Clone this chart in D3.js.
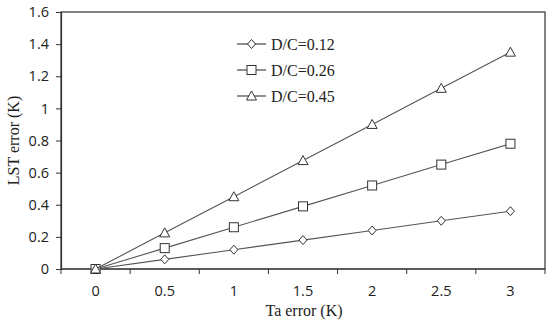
<!DOCTYPE html>
<html>
<head>
<meta charset="utf-8">
<script src="https://cdn.jsdelivr.net/npm/d3@7"></script>
<style>
  body { margin: 0; background: #fff; }
  .tick text { font-family: "Open Sans", "Noto Sans", sans-serif; font-size: 14.5px; fill: #222; }
  .axis path, .axis line { stroke: #333; }
</style>
</head>
<body>
<svg id="chart" width="550" height="325"></svg>
<script>
// data
const taError = ["0", "0.5", "1", "1.5", "2", "2.5", "3"];
const dc012 = [0, 0.06, 0.12, 0.18, 0.24, 0.30, 0.36];
const dc026 = [0, 0.13, 0.26, 0.39, 0.52, 0.65, 0.78];
const dc045 = [0, 0.225, 0.45, 0.675, 0.90, 1.125, 1.35];
const seriesNames = ["D/C=0.12", "D/C=0.26", "D/C=0.45"];
const yTicks = [0, 0.2, 0.4, 0.6, 0.8, 1, 1.2, 1.4, 1.6];

const series = [
  { name: seriesNames[0], values: dc012, shape: "diamond" },
  { name: seriesNames[1], values: dc026, shape: "square" },
  { name: seriesNames[2], values: dc045, shape: "triangle" }
];

const margin = { left: 61, right: 5, top: 12, bottom: 56 };
const width = 550, height = 325;

const svg = d3.select("#chart");

const x = d3.scaleBand()
  .domain(taError)
  .range([margin.left, width - margin.right]);

const y = d3.scaleLinear()
  .domain([0, 1.6])
  .range([height - margin.bottom, margin.top]);

// frame (top + right)
svg.append("rect")
  .attr("x", margin.left)
  .attr("y", margin.top)
  .attr("width", width - margin.right - margin.left)
  .attr("height", height - margin.bottom - margin.top)
  .attr("fill", "none")
  .attr("stroke", "#333")
  .attr("stroke-width", 1.2);

// x axis: ticks at band boundaries, labels in band centres
const xAxisG = svg.append("g")
  .attr("class", "axis")
  .attr("transform", "translate(0," + (height - margin.bottom) + ")");

xAxisG.append("line")
  .attr("x1", margin.left).attr("x2", width - margin.right)
  .attr("stroke", "#333").attr("stroke-width", 1.2);

const bounds = taError.map(d => x(d)).concat([x(taError[taError.length - 1]) + x.bandwidth()]);
xAxisG.selectAll(".xt")
  .data(bounds)
  .enter().append("line")
  .attr("class", "xt")
  .attr("x1", d => d).attr("x2", d => d)
  .attr("y1", 0).attr("y2", 5)
  .attr("stroke", "#333");

xAxisG.selectAll(".tick")
  .data(taError)
  .enter().append("g")
  .attr("class", "tick")
  .attr("transform", d => "translate(" + (x(d) + x.bandwidth() / 2) + ",0)")
  .append("text")
  .attr("y", 27)
  .attr("text-anchor", "middle")
  .text(d => d);

// y axis
const yAxis = d3.axisLeft(y)
  .tickValues(yTicks)
  .tickSize(5)
  .tickPadding(7)
  .tickFormat(d => d3.format("")(d));

svg.append("g")
  .attr("class", "axis")
  .attr("transform", "translate(" + margin.left + ",0)")
  .call(yAxis)
  .call(g => g.select(".domain").attr("stroke-width", 1.2));

// axis titles
svg.append("text")
  .attr("x", 304)
  .attr("y", 316)
  .attr("text-anchor", "middle")
  .style("font-family", "'Liberation Serif', 'DejaVu Serif', serif")
  .style("font-size", "16px")
  .attr("fill", "#222")
  .text("Ta error (K)");

svg.append("text")
  .attr("transform", "translate(19," + ((margin.top + height - margin.bottom) / 2) + ") rotate(-90)")
  .attr("text-anchor", "middle")
  .style("font-family", "'Liberation Serif', 'DejaVu Serif', serif")
  .style("font-size", "16px")
  .attr("fill", "#222")
  .text("LST error (K)");

const cx = d => x(d) + x.bandwidth() / 2;

function marker(g, shape) {
  if (shape === "diamond") {
    g.append("path").attr("d", "M0,-4.5L4,0L0,4.5L-4,0Z");
  } else if (shape === "square") {
    g.append("rect").attr("x", -4.5).attr("y", -4.5).attr("width", 9).attr("height", 9);
  } else {
    g.append("path").attr("d", "M0,-5L5,4L-5,4Z");
  }
}

const line = d3.line()
  .x((d, i) => cx(taError[i]))
  .y(d => y(d));

series.forEach(s => {
  svg.append("path")
    .datum(s.values)
    .attr("d", line)
    .attr("fill", "none")
    .attr("stroke", "#555")
    .attr("stroke-width", 1.1);

  svg.selectAll(null)
    .data(s.values)
    .enter().append("g")
    .attr("transform", (d, i) => "translate(" + cx(taError[i]) + "," + y(d) + ")")
    .attr("fill", "#fff")
    .attr("stroke", "#333")
    .attr("stroke-width", 1)
    .each(function () { marker(d3.select(this), s.shape); });
});

// legend
const legend = svg.append("g").attr("transform", "translate(237,44)");
series.forEach((s, i) => {
  const row = legend.append("g").attr("transform", "translate(0," + i * 26 + ")");
  row.append("line")
    .attr("x1", 0).attr("x2", 29)
    .attr("stroke", "#333").attr("stroke-width", 1.1);
  const m = row.append("g")
    .attr("transform", "translate(14.5,0)")
    .attr("fill", "#fff")
    .attr("stroke", "#333");
  marker(m, s.shape);
  row.append("text")
    .attr("x", 34)
    .attr("y", 5.5)
    .style("font-family", "'Liberation Serif', 'DejaVu Serif', serif")
    .style("font-size", "16px")
    .attr("fill", "#222")
    .text(s.name);
});
</script>
</body>
</html>
